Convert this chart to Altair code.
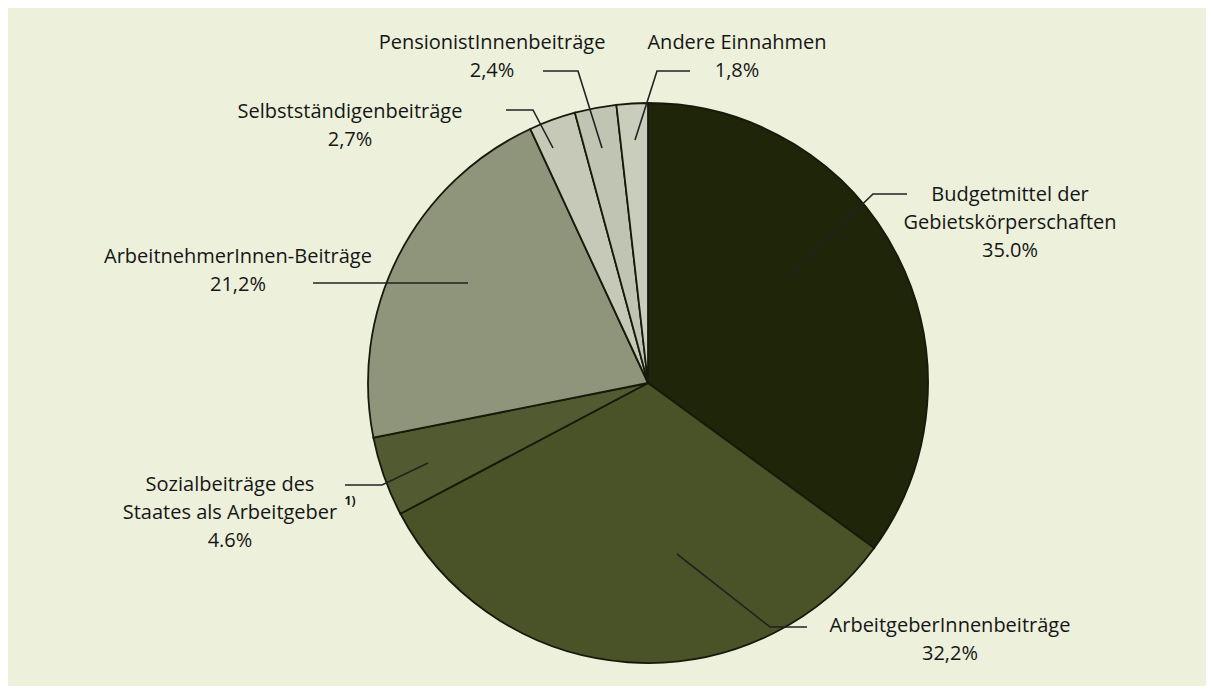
import altair as alt
import pandas as pd

# ---- data ----
categories = [
    "Budgetmittel der Gebietskörperschaften",
    "ArbeitgeberInnenbeiträge",
    "Sozialbeiträge des Staates als Arbeitgeber",
    "ArbeitnehmerInnen-Beiträge",
    "Selbstständigenbeiträge",
    "PensionistInnenbeiträge",
    "Andere Einnahmen",
]
values = [35.0, 32.2, 4.6, 21.2, 2.7, 2.4, 1.8]
decimal_sep = [".", ",", ".", ",", ",", ",", ","]
label_lines = [
    ["Budgetmittel der", "Gebietskörperschaften"],
    ["ArbeitgeberInnenbeiträge"],
    ["Sozialbeiträge des", "Staates als Arbeitgeber"],
    ["ArbeitnehmerInnen-Beiträge"],
    ["Selbstständigenbeiträge"],
    ["PensionistInnenbeiträge"],
    ["Andere Einnahmen"],
]

# ---- styles / layout (page pixel coordinates) ----
colors = ["#1e2508", "#4a5228", "#515a30", "#8f957b", "#c6c9b7", "#c0c4b2", "#c9cdbc"]
background = "#edf1dc"
center = (648, 383)
radius = 280
label_pos = [(1010, 195), (950, 626), (230, 485), (238, 257), (350, 112), (492, 43), (737, 43)]
line_step = 28
leaders = [
    [(907, 194), (873, 194), (788, 276)],
    [(807, 627), (770, 627), (677, 554)],
    [(345, 485), (382, 485), (428, 463)],
    [(313, 283), (468, 283)],
    [(506, 110), (533, 110), (553, 148)],
    [(543, 71), (578, 71), (602, 148)],
    [(690, 71), (657, 71), (635, 140)],
]
footnote_pos = (350, 501)

W, H = 1198, 678
xs = alt.Scale(domain=[8, 8 + W], range=[0, W])
ys = alt.Scale(domain=[8, 8 + H], range=[0, H])

pie_df = pd.DataFrame({"cat": categories, "val": values, "order": list(range(len(values)))})

text_rows = []
for i, (lines, v, sep) in enumerate(zip(label_lines, values, decimal_sep)):
    pct = f"{v:.1f}".replace(".", sep) + "%"
    x0, y0 = label_pos[i]
    for j, t in enumerate(lines + [pct]):
        text_rows.append({"x": x0, "y": y0 + j * line_step, "t": t})
text_df = pd.DataFrame(text_rows)

lead_rows = []
for i, pts in enumerate(leaders):
    for k, (px, py) in enumerate(pts):
        lead_rows.append({"id": i, "k": k, "x": px, "y": py})
lead_df = pd.DataFrame(lead_rows)

pie = alt.Chart(pie_df).mark_arc(
    radius=radius, stroke="#161a0b", strokeWidth=1.8
).encode(
    theta=alt.Theta("val:Q", stack=True),
    order=alt.Order("order:Q"),
    color=alt.Color("cat:N", scale=alt.Scale(domain=categories, range=colors), legend=None),
    x=alt.value(center[0] - 8),
    y=alt.value(center[1] - 8),
)

lead = alt.Chart(lead_df).mark_line(color="#222222", strokeWidth=1.6).encode(
    x=alt.X("x:Q", scale=xs, axis=None),
    y=alt.Y("y:Q", scale=ys, axis=None),
    detail="id:N",
    order="k:Q",
)

texts = alt.Chart(text_df).mark_text(
    font="Open Sans", fontSize=20, fontWeight=500, color="#161616", align="center", baseline="middle"
).encode(
    x=alt.X("x:Q", scale=xs, axis=None),
    y=alt.Y("y:Q", scale=ys, axis=None),
    text="t:N",
)

foot_df = pd.DataFrame({"x": [footnote_pos[0]], "y": [footnote_pos[1]], "t": ["1)"]})
foot = alt.Chart(foot_df).mark_text(
    font="Open Sans", fontSize=12, fontWeight="bold", color="#161616", align="center", baseline="middle"
).encode(
    x=alt.X("x:Q", scale=xs, axis=None),
    y=alt.Y("y:Q", scale=ys, axis=None),
    text="t:N",
)

chart = alt.layer(pie, lead, texts, foot).properties(
    width=W, height=H, background=background, padding=0,
    autosize=alt.AutoSizeParams(type="none"),
).configure_view(stroke=None)

chart.save("out.html", embed_options={"renderer": "svg", "actions": False})
